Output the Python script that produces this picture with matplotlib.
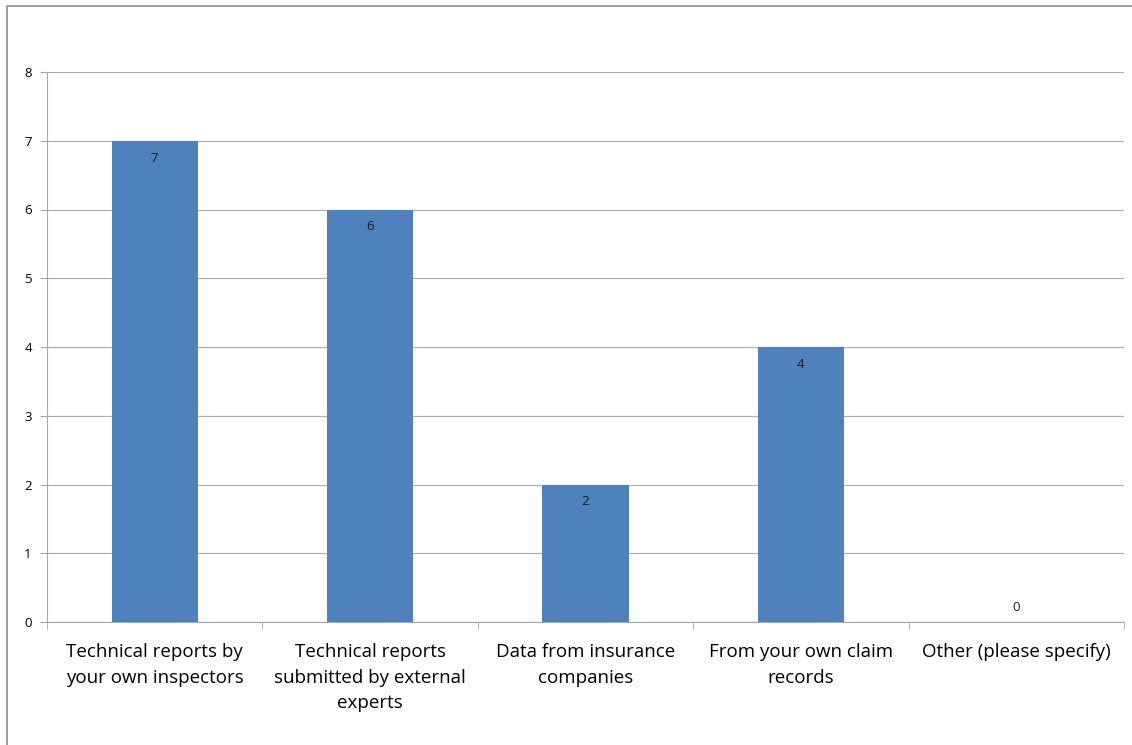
import numpy as np
import matplotlib.pyplot as plt
from matplotlib.patches import Rectangle

categories = [
    "Technical reports by\nyour own inspectors",
    "Technical reports\nsubmitted by external\nexperts",
    "Data from insurance\ncompanies",
    "From your own claim\nrecords",
    "Other (please specify)",
]
counts = [7, 6, 2, 4, 0]

plt.rcParams['font.family'] = ['Open Sans', 'DejaVu Sans']

fig = plt.figure(figsize=(11.32, 7.45), dpi=100)
ax = fig.add_axes([47 / 1132, 123 / 745, 1077 / 1132, 550 / 745])

# chart area outline (only left and top edges are visible)
fig.patches.append(Rectangle((7 / 1132, -0.1), 1.2, 0.1 + 739 / 745,
                             transform=fig.transFigure, fill=False,
                             edgecolor='#8c8c8c', linewidth=1.2))

x = np.arange(len(categories))
ax.bar(x, counts, width=0.4, color='#4f81bd', zorder=3)

for xi, v in zip(x, counts):
    if v > 0:
        ax.annotate(str(v), (xi, v), xytext=(0, -12.5), textcoords='offset points',
                    ha='center', va='center', fontsize=9.5, color='#1a1a1a',
                    zorder=4)
    else:
        ax.annotate(str(v), (xi, v), xytext=(0, 10.5), textcoords='offset points',
                    ha='center', va='center', fontsize=9.5, color='#1a1a1a')

ax.set_xlim(-0.5, len(categories) - 0.5)
ax.set_ylim(0, 8)
ax.set_yticks(range(0, 9))
ax.yaxis.grid(True, color='#b0b0b0', linewidth=0.9, zorder=0)

ax.set_xticks(x)
ax.set_xticklabels(categories, fontsize=13.5, linespacing=1.55, va='top')
ax.set_xticks(np.arange(-0.5, len(categories)), minor=True)
ax.tick_params(axis='x', which='major', length=0, pad=15)
ax.tick_params(axis='x', which='minor', length=5, color='#a6a6a6', direction='out')
ax.tick_params(axis='y', length=5, color='#a6a6a6', labelsize=9.5, pad=6)

for side in ['top', 'right']:
    ax.spines[side].set_visible(False)
for side in ['left', 'bottom']:
    ax.spines[side].set_color('#a6a6a6')

fig.savefig("out.png", dpi=100)
